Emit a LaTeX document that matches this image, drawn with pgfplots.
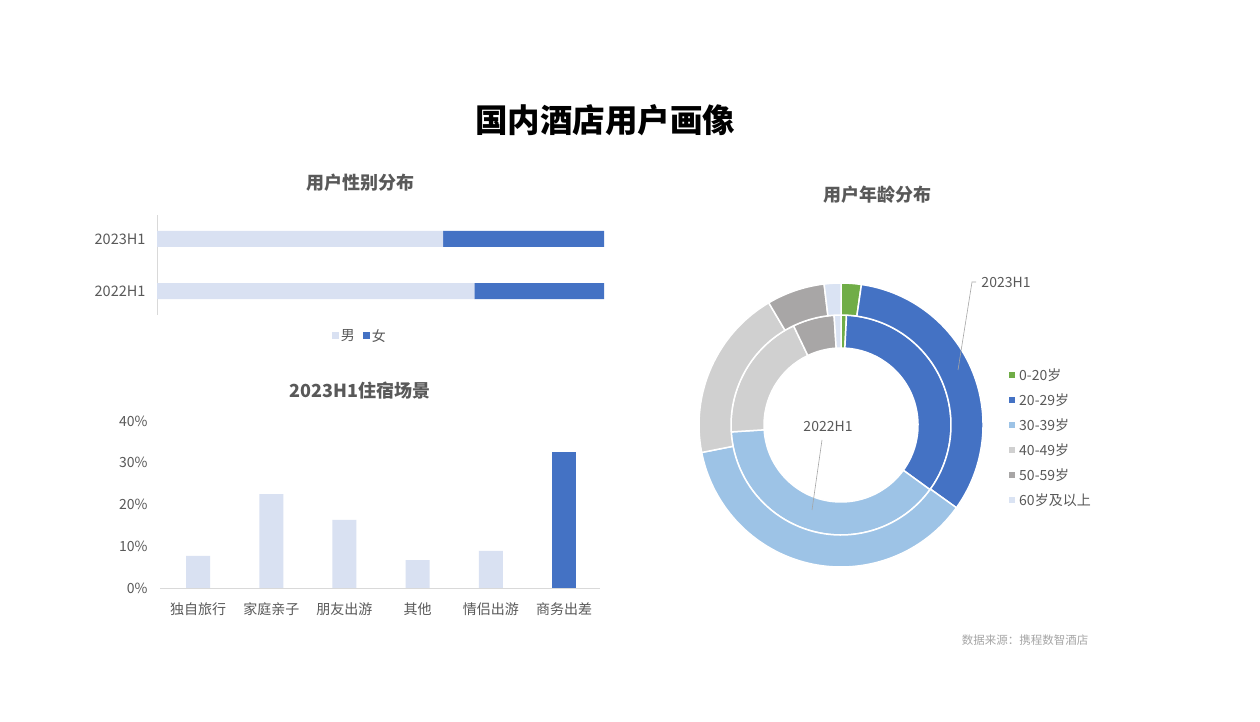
\documentclass[border=0pt]{standalone}
\usepackage{pgfplots}
\pgfplotsset{compat=1.18}
\usepackage{fontspec}
\setmainfont{Noto Sans CJK SC}

\definecolor{barLight}{HTML}{D9E1F2}
\definecolor{barDark}{HTML}{4472C4}
\definecolor{cG}{HTML}{70AD47}
\definecolor{cB}{HTML}{4472C4}
\definecolor{cL}{HTML}{9DC3E6}
\definecolor{cGr}{HTML}{D0D0D0}
\definecolor{cDg}{HTML}{A8A6A6}
\definecolor{cV}{HTML}{DAE3F3}
\definecolor{txt}{HTML}{595959}
\definecolor{axline}{HTML}{D9D9D9}

% one ring of the donut: inner radius, outer radius, list of value/colour
\newcommand\ring[3]{%
  \gdef\cum{0}%
  \foreach \v/\c in {#3}{%
    \pgfmathsetmacro\aa{90-3.6*\cum}%
    \pgfmathsetmacro\newcum{\cum+\v}%
    \pgfmathsetmacro\ab{90-3.6*\newcum}%
    \filldraw[fill=\c, draw=white, line width=1.5pt]
      (\aa:#1pt) -- (\aa:#2pt) arc[start angle=\aa, end angle=\ab, radius=#2pt]
      -- (\ab:#1pt) arc[start angle=\ab, end angle=\aa, radius=#1pt] -- cycle;
    \xdef\cum{\newcum}%
  }}

\begin{document}
\begin{tikzpicture}[x=1pt,y=1pt]
\fill[white] (0,0) rectangle (1260,722);

% titles
\node[font=\fontsize{32.5}{36}\selectfont\bfseries] at (605,602) {国内酒店用户画像};
\node[font=\fontsize{18}{21}\selectfont\bfseries, text=txt] at (360,539) {用户性别分布};
\node[font=\fontsize{18}{21}\selectfont\bfseries, text=txt] at (360,331) {2023H1住宿场景};
\node[font=\fontsize{18}{21}\selectfont\bfseries, text=txt] at (877,527) {用户年龄分布};

% gender split
\begin{axis}[
    at={(380.5pt,457pt)}, anchor=center,
    scale only axis, width=447pt, height=100pt,
    xbar stacked, bar width=16pt,
    xmin=0, xmax=100, ymin=-0.46, ymax=1.46,
    axis x line=none, axis y line*=left,
    y axis line style={draw=axline, -},
    ytick={0,1}, yticklabels={2022H1,2023H1},
    major tick length=0,
    yticklabel style={font=\fontsize{14.5}{17}\selectfont, text=txt, xshift=-8pt},
    legend style={at={(0.454,-0.21)}, anchor=center, draw=none, fill=none,
        legend columns=2, font=\fontsize{14}{17}\selectfont, text=txt,
        /tikz/every even column/.append style={column sep=6pt}},
    legend image code/.code={\path[#1, draw=none] (0pt,-3.5pt) rectangle (7pt,3.5pt);},
]
\addplot[fill=barLight, draw=none] coordinates {(71,0) (64,1)};
\addplot[fill=barDark, draw=none] coordinates {(29,0) (36,1)};
\legend{男,女}
\end{axis}

% stay scenarios
\begin{axis}[
    at={(380pt,217.5pt)}, anchor=center,
    scale only axis, width=440pt, height=167pt,
    ybar, bar width=24pt, bar shift=0pt,
    xmin=-0.52, xmax=5.49, ymin=0, ymax=40,
    axis x line*=bottom, axis y line*=left,
    x axis line style={draw=axline, -}, y axis line style={draw=none},
    ytick={0,10,20,30,40},
    yticklabel={\pgfmathprintnumber{\tick}\%},
    /pgf/number format/assume math mode=true,
    xtick={0,...,5},
    xticklabels={独自旅行,家庭亲子,朋友出游,其他,情侣出游,商务出差},
    major tick length=0,
    yticklabel style={font=\fontsize{14}{17}\selectfont, text=txt, xshift=-9pt},
    xticklabel style={font=\fontsize{14}{17}\selectfont, text=txt, yshift=-11pt},
]
\addplot[fill=barLight, draw=none] coordinates {(0,7.7) (1,22.5) (2,16.3) (3,6.7) (4,8.9)};
\addplot[fill=barDark, draw=none] coordinates {(5,32.6)};
\end{axis}

% age donut: inner ring 2022H1, outer ring 2023H1
\begin{axis}[
    at={(841pt,297pt)}, anchor=center,
    scale only axis, width=300pt, height=300pt,
    xmin=-150, xmax=150, ymin=-150, ymax=150,
    hide axis,
]
\pgfplotsextra{
  \begin{scope}[shift={(axis cs:0,0)}]
  \ring{77}{110}{0.8/cG, 34.2/cB, 39.0/cL, 18.9/cGr, 6.1/cDg, 1.0/cV}
  \ring{110}{142}{2.3/cG, 32.6/cB, 37.0/cL, 19.6/cGr, 6.6/cDg, 1.9/cV}
  \end{scope}
}
\end{axis}

% ring labels
\draw[gray!70, line width=0.6pt] (976,440) -- (972,440) -- (958,352);
\node[font=\fontsize{14}{17}\selectfont, text=txt] at (1006,440) {2023H1};
\draw[gray!70, line width=0.6pt] (822,282) -- (812,212);
\node[font=\fontsize{14}{17}\selectfont, text=txt] at (828,296) {2022H1};

% donut legend
\foreach \c/\t [count=\i] in {cG/0-20岁, cB/20-29岁, cL/30-39岁, cGr/40-49岁, cDg/50-59岁, cV/60岁及以上}{
  \fill[\c] ({1009},{347-25*(\i-1)-3}) rectangle ++(6,6);
  \node[anchor=west, font=\fontsize{14}{17}\selectfont, text=txt, inner sep=0pt]
    at (1019,{347-25*(\i-1)}) {\t};
}

% source
\node[font=\fontsize{11.5}{14}\selectfont, text=gray!70] at (1025,82) {数据来源：携程数智酒店};
\end{tikzpicture}
\end{document}
